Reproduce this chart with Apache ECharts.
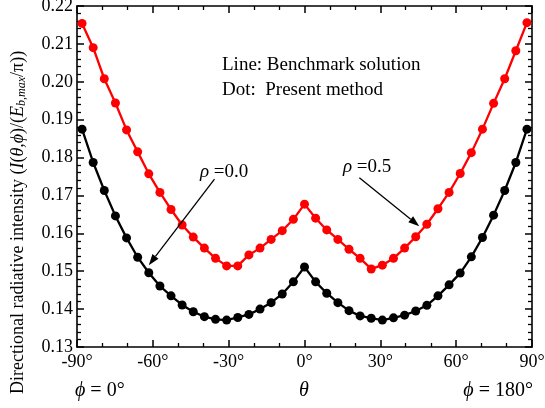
<!DOCTYPE html>
<html><head><meta charset="utf-8">
<script src="https://cdn.jsdelivr.net/npm/echarts@6/dist/echarts.min.js"></script>
<style>html,body{margin:0;padding:0;background:#fff}#c{width:545px;height:408px}</style>
</head><body><div id="c"></div>
<script>
// polar angle theta (degrees) of the sampled directions
const theta = [-88,-83.6,-79.2,-74.8,-70.4,-66,-61.6,-57.2,-52.8,-48.4,-44,-39.6,-35.2,-30.8,-26.4,-22,-17.6,-13.2,-8.8,-4.4,0,
  4.4,8.8,13.2,17.6,22,26.4,30.8,35.2,39.6,44,48.4,52.8,57.2,61.6,66,70.4,74.8,79.2,83.6,88];
// rho = 0.0 (black)
const rho00 = [0.1875,0.1787,0.1713,0.1646,0.1588,0.1537,0.1496,0.1461,0.1435,0.1411,0.1393,0.1380,0.1373,0.1371,0.1378,0.1386,0.1400,0.1417,0.1440,0.1472,0.1511,
  0.1472,0.1442,0.1417,0.1396,0.1382,0.1376,0.1371,0.1377,0.1384,0.1395,0.1410,0.1435,0.1464,0.1495,0.1538,0.1589,0.1648,0.1713,0.1787,0.1875];
// rho = 0.5 (red)
const rho05 = [0.2154,0.2090,0.2008,0.1944,0.1873,0.1815,0.1757,0.1708,0.1663,0.1622,0.1590,0.1561,0.1534,0.1514,0.1514,0.1543,0.1561,0.1584,0.1607,0.1637,0.1677,
  0.1640,0.1609,0.1584,0.1558,0.1534,0.1506,0.1516,0.1534,0.1561,0.1591,0.1624,0.1665,0.1708,0.1758,0.1813,0.1875,0.1943,0.2008,0.2082,0.2156];
const xTickLabels = ['-90°','-60°','-30°','0°','30°','60°','90°'];
const xTickValues = [-90,-60,-30,0,30,60,90];

const FONT = '"Liberation Serif", "Times New Roman", serif';
const chart = echarts.init(document.getElementById('c'), null, {renderer: 'canvas'});
const pairs = arr => theta.map((t, i) => [t, arr[i]]);

const lineCol = '#000';
function xAxisCfg(pos, labels) {
  return {
    type: 'value', min: -90, max: 90, interval: 30, position: pos,
    axisLine: {show: true, onZero: false, lineStyle: {color: lineCol, width: 1.6}},
    axisTick: {show: true, inside: true, length: 7, lineStyle: {color: lineCol, width: 1.5}},
    minorTick: {show: true, splitNumber: 3, length: 4, lineStyle: {color: lineCol, width: 1.3}},
    splitLine: {show: false},
    axisLabel: {show: labels, margin: 6, color: '#000', fontFamily: FONT, fontSize: 18,
      showMinLabel: true, showMaxLabel: true, hideOverlap: false,
      formatter: v => { const i = xTickValues.indexOf(Math.round(v)); return i >= 0 ? xTickLabels[i] : ''; }}
  };
}
function yAxisCfg(pos, labels) {
  return {
    type: 'value', min: 0.13, max: 0.22, interval: 0.01, position: pos,
    axisLine: {show: true, onZero: false, lineStyle: {color: lineCol, width: 1.6}},
    axisTick: {show: true, inside: true, length: 7, lineStyle: {color: lineCol, width: 1.5}},
    minorTick: {show: true, splitNumber: 5, length: 4, lineStyle: {color: lineCol, width: 1.3}},
    splitLine: {show: false},
    axisLabel: {show: labels, margin: 4, color: '#000', fontFamily: FONT, fontSize: 18,
      showMinLabel: true, showMaxLabel: true, hideOverlap: false,
      formatter: v => v.toFixed(2)}
  };
}

chart.setOption({
  animation: false,
  backgroundColor: '#fff',
  grid: {left: 77, right: 13, top: 6, bottom: 61, containLabel: false, outerBoundsMode: 'none'},
  xAxis: [xAxisCfg('bottom', true), xAxisCfg('top', false)],
  yAxis: [yAxisCfg('left', true), yAxisCfg('right', false)],
  series: [
    {name: 'Benchmark rho=0.5', type: 'line', data: pairs(rho05), showSymbol: false, silent: true,
      lineStyle: {color: '#ff0000', width: 2.3}, z: 2},
    {name: 'Benchmark rho=0.0', type: 'line', data: pairs(rho00), showSymbol: false, silent: true,
      lineStyle: {color: '#000000', width: 2.3}, z: 2},
    {name: 'Present rho=0.5', type: 'scatter', data: pairs(rho05), symbol: 'circle', symbolSize: 9,
      itemStyle: {color: '#ff0000', opacity: 1}, z: 3},
    {name: 'Present rho=0.0', type: 'scatter', data: pairs(rho00), symbol: 'circle', symbolSize: 9,
      itemStyle: {color: '#000000', opacity: 1}, z: 3}
  ]
});

// annotation arrows, given in data space
const arrows = [
  {from: [-35.6, 0.1743], to: [-61.6, 0.1516]},
  {from: [21.7, 0.1747], to: [45.4, 0.1619]}
];
const g = [];
arrows.forEach((a, k) => {
  const p0 = chart.convertToPixel({seriesIndex: 0}, a.from);
  const p1 = chart.convertToPixel({seriesIndex: 0}, a.to);
  const dx = p1[0] - p0[0], dy = p1[1] - p0[1], L = Math.hypot(dx, dy);
  const ux = dx / L, uy = dy / L, hl = 11, hw = 3.8;
  const bx = p1[0] - ux * hl, by = p1[1] - uy * hl;
  g.push({type: 'line', z: 10, shape: {x1: p0[0], y1: p0[1], x2: bx, y2: by},
    style: {stroke: '#000', lineWidth: 1.3}});
  g.push({type: 'polygon', z: 10, shape: {points: [[p1[0], p1[1]], [bx - uy * hw, by + ux * hw], [bx + uy * hw, by - ux * hw]]},
    style: {fill: '#000'}});
});
const mkRich = fs => ({i: {fontStyle: 'italic', fontFamily: FONT, fontSize: fs}, n: {fontFamily: FONT, fontSize: fs}});
const txt = (x, y, text, align, fs, rich) => ({type: 'text', x: x, y: y, z: 10,
  style: {text: text, fontFamily: FONT, fontSize: fs, fill: '#000', align: align, verticalAlign: 'middle', rich: rich || undefined}});
g.push(txt(222, 65, 'Line: Benchmark solution', 'left', 19));
g.push(txt(222, 90, 'Dot:  Present method', 'left', 19));
g.push(txt(200, 172, '{i|ρ}{n| =0.0}', 'left', 19, mkRich(19)));
g.push(txt(343, 167, '{i|ρ}{n| =0.5}', 'left', 19, mkRich(19)));
g.push(txt(75, 391, '{i|ϕ}{n| = 0°}', 'left', 20, mkRich(20)));
g.push(txt(304, 391, '{i|θ}', 'center', 20, mkRich(20)));
g.push(txt(533, 391, '{i|ϕ}{n| = 180°}', 'right', 20, mkRich(20)));
g.push({type: 'text', x: 18, y: 394, rotation: Math.PI / 2, z: 10,
  style: {text: '{n|Directional radiative intensity (}{i|I}{n|(}{i|θ,ϕ}{n|)/(}{i|E}{s|b,max}{n|/π))}',
    fontFamily: FONT, fontSize: 18, fill: '#000', align: 'left', verticalAlign: 'middle',
    rich: {n: {fontFamily: FONT, fontSize: 18}, i: {fontFamily: FONT, fontSize: 18, fontStyle: 'italic'},
      s: {fontFamily: FONT, fontSize: 12, fontStyle: 'italic', verticalAlign: 'bottom', padding: [8, 0, 0, 0]}}}});
chart.setOption({graphic: g});
</script></body></html>
